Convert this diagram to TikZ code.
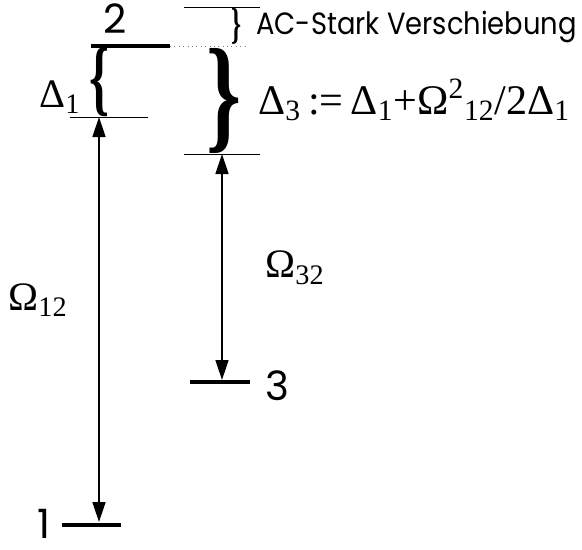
\documentclass[tikz,border=0pt]{standalone}
\usepackage{amsmath, amssymb}
\usepackage{graphicx}
\usepackage{fontspec}
\usetikzlibrary{arrows.meta}
\newfontfamily\gothic{Poppins}
\newfontfamily\greek{Liberation Serif}
\newcommand{\fitbrace}[3]{\resizebox*{#1}{#2}{\greek\bfseries#3}}
\newcommand{\sub}[1]{\textsubscript{#1}}

\tikzset{
  level/.style={line width=2.8pt},
  guide/.style={line width=0.5pt},
  trans/.style={line width=0.8pt,
    {Triangle[length=0.4cm,width=0.26cm]}-{Triangle[length=0.4cm,width=0.26cm]}},
  lbl/.style={font=\gothic\fontsize{23}{25}\selectfont, inner sep=0},
  sym/.style={font=\greek\fontsize{23}{25}\selectfont, inner sep=0},
}

\begin{document}
\begin{tikzpicture}[x=0.02cm, y=-0.02cm]
  \useasboundingbox (0,0) rectangle (582,549);

  % levels
  \coordinate (l2w) at (91,46);   \coordinate (l2e) at (170,46);
  \coordinate (l1w) at (62,525);  \coordinate (l1e) at (121,525);
  \coordinate (l3w) at (190,382); \coordinate (l3e) at (250,382);
  \draw[level] (l2w) -- (l2e);
  \draw[level] (l1w) -- (l1e);
  \draw[level] (l3w) -- (l3e);

  % shifted levels
  \coordinate (acw) at (184,7);   \coordinate (ace) at (260,7);
  \coordinate (acb) at (245,46);
  \coordinate (d1w) at (70,117);  \coordinate (d1e) at (148,117);
  \coordinate (d3w) at (184,154); \coordinate (d3e) at (260,154);
  \draw[guide] (acw) -- (ace);
  \draw[guide, dotted, gray] (l2e) -- (acb);
  \draw[guide] (d1w) -- (d1e);
  \draw[guide] (d3w) -- (d3e);

  \coordinate (o12t) at (99,117);  \coordinate (o12b) at (99,522);
  \coordinate (o32t) at (222,154); \coordinate (o32b) at (222,380);
  \draw[trans] (o12t) -- (o12b);
  \draw[trans] (o32t) -- (o32b);

  \node[inner sep=0] (bac) at (236,26) {\fitbrace{0.2cm}{0.72cm}{\}}};
  \node[inner sep=0] (bd1) at (99,82.5) {\fitbrace{0.4cm}{1.38cm}{\{}};
  \node[inner sep=0] (bd3) at (224,101) {\fitbrace{0.7cm}{2.1cm}{\}}};

  \node[lbl] (n2) at (115,19) {2};
  \node[lbl] (n1) at (44,524) {1};
  \node[lbl] (n3) at (277,386) {3};
  \node[lbl, anchor=west, font=\gothic\fontsize{17.5}{19}\selectfont]
    (ac) at (256,27) {\scalebox{0.89}[1]{AC-Stark Verschiebung}};
  \node[sym] (o12) at (38,300) {Ω\sub{12}};
  \node[sym] (o32) at (295,268) {Ω\sub{32}};
  \node[sym] (d1) at (60,97) {Δ\sub{1}};
  \node[sym, anchor=base west, font=\greek\fontsize{24}{26}\selectfont] (d3) at (258,114)
    {Δ\sub{3}\,:=\,Δ\sub{1}+Ω\textsuperscript{2}\sub{12}/2Δ\sub{1}};
\end{tikzpicture}
\end{document}
